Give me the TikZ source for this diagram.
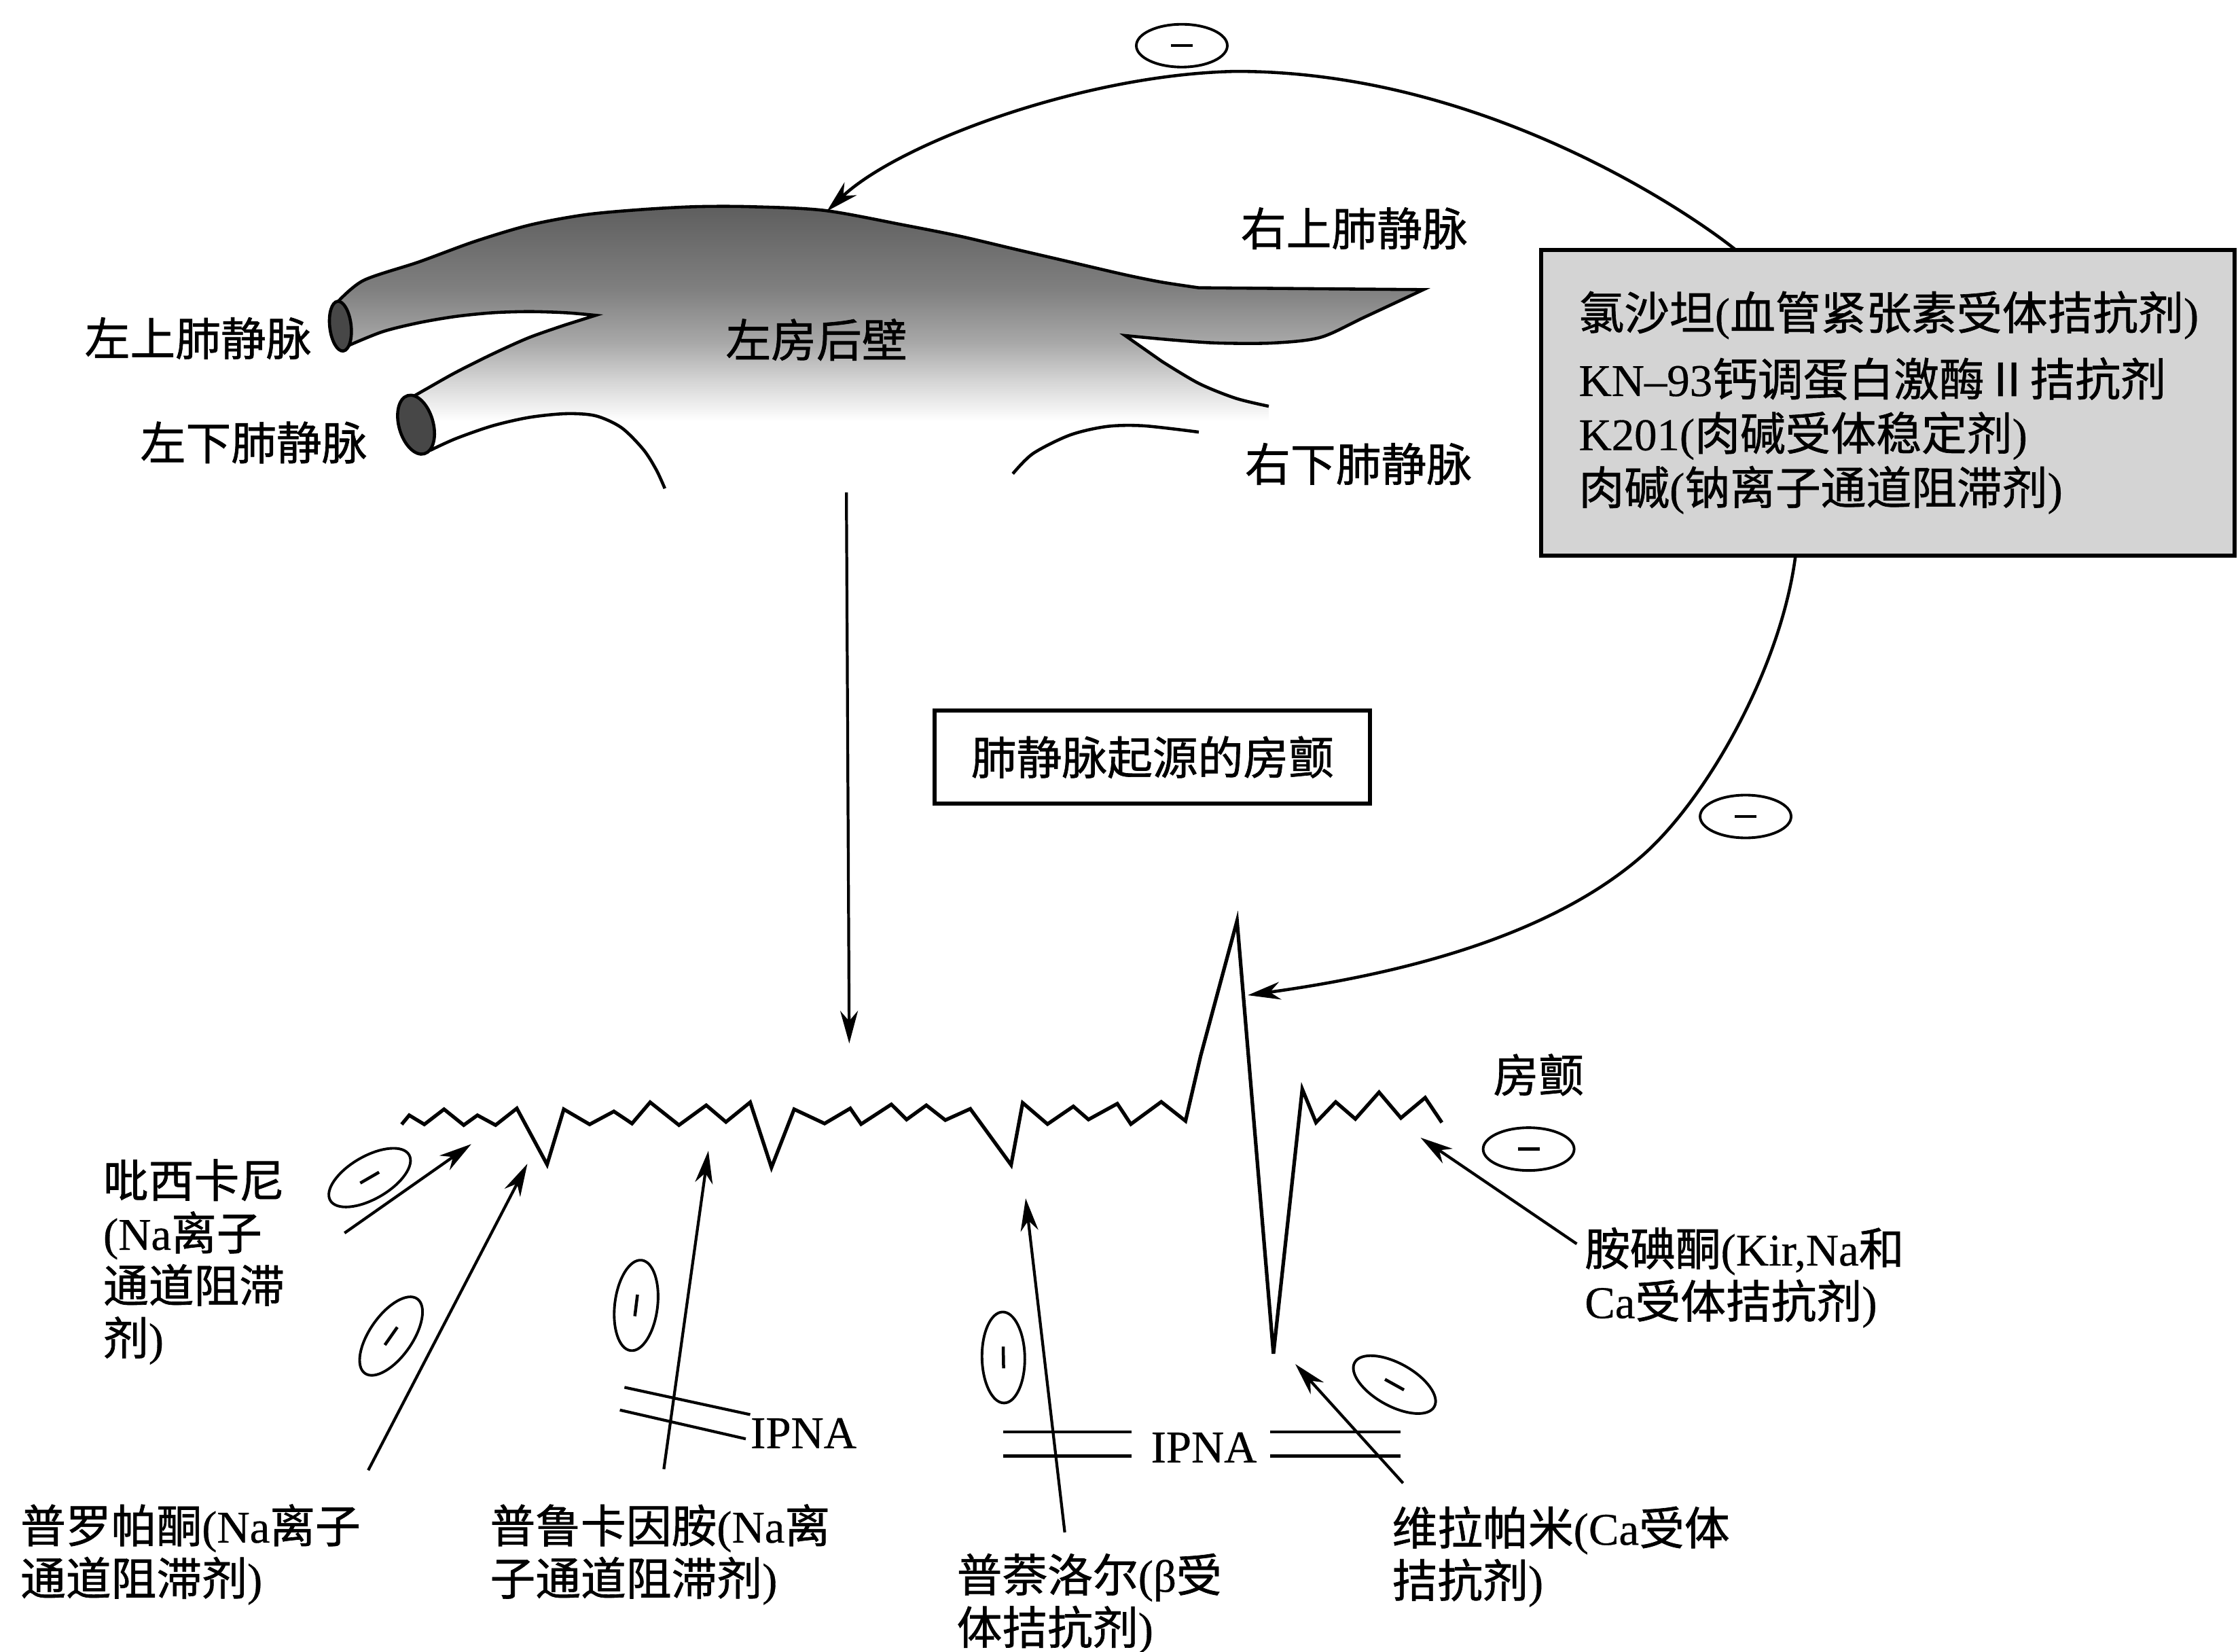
\documentclass[tikz,border=0pt]{standalone}
\usepackage{fontspec}
\setmainfont{Liberation Serif}[FakeBold=0.5]
\newfontfamily\cjk{Noto Sans CJK SC}[FakeBold=1.0]
\usetikzlibrary{arrows.meta,shapes.geometric}

% Han characters switch to the CJK face, the rest stays in the serif
\XeTeXinterchartokenstate=1
\newXeTeXintercharclass\hanclass
\count255="3000
\loop
  \XeTeXcharclass\count255=\hanclass
  \ifnum\count255<"9FFF \advance\count255 by 1 \repeat
\XeTeXcharclass"2161=\hanclass
\XeTeXinterchartoks 0 \hanclass = {\cjk}
\XeTeXinterchartoks 4095 \hanclass = {\cjk}
\XeTeXinterchartoks \hanclass 0 = {\rmfamily}
\XeTeXinterchartoks \hanclass 4095 = {\rmfamily}

% dark at the top of the wall, white by the lower veins
\pgfdeclareverticalshading{wallfade}{100bp}{rgb(0bp)=(1,1,1); rgb(31bp)=(1,1,1);
  rgb(39bp)=(0.84,0.84,0.84); rgb(47bp)=(0.66,0.66,0.66); rgb(58bp)=(0.50,0.50,0.50);
  rgb(75bp)=(0.37,0.37,0.37); rgb(100bp)=(0.37,0.37,0.37)}

\tikzset{
  vtip/.tip={Stealth[length=4.8mm,width=2.6mm,inset=1.5mm]},
  arr/.style={line width=1.2pt, -vtip},
  wall/.style={line width=1.3pt},
  trace/.style={line width=1.5pt},
  lbl/.style={inner sep=0pt, align=left, font=\fontsize{19}{22}\selectfont},
  inhib/.style={ellipse, draw, line width=1.1pt, minimum width=13.4mm,
    minimum height=6.3mm, inner sep=0pt},
  agentbox/.style={draw, line width=1.7pt, fill=black!17, minimum height=45mm,
    text width=91mm, inner xsep=5.57mm, align=left,
    font=\fontsize{19}{22.7}\selectfont},
  afbox/.style={draw, line width=1.7pt, minimum width=64.1mm, minimum height=13.7mm,
    font=\fontsize{19}{22}\selectfont}
}
\newcommand{\minus}{\rule[-0.22mm]{3.2mm}{0.45mm}}

\begin{document}
\begin{tikzpicture}[x=0.21014mm, y=-0.21014mm]
\fill[white] (0,0) rectangle (1568,1157);
\useasboundingbox (0,0) rectangle (1568,1157);

% posterior wall of the left atrium
\shade[shading=wallfade]
  plot[smooth] coordinates {(236.7,211.4) (254.8,196.4) (293.5,183.5) (332.2,169.3)
    (370.9,157.7) (409.6,150.5) (448.3,146.9) (487,144.8) (525.7,144.8) (577.3,147.4)
    (633.5,157.7) (672.2,165.4) (710.9,174.5) (749.6,183.5) (788.3,192.5) (814.1,197.7)
    (839.9,201.6)}
  -- plot[smooth] coordinates {(997.3,202.9) (956,222.2) (925,236.4) (891.5,240.3)
    (852.8,240.3) (821.8,238.2) (788.3,235.1)}
  -- plot[smooth] coordinates {(814.1,253.2) (839.9,268.6) (865.7,279) (888.9,284.6)}
  -- (888.9,300) -- (435.4,299.6)
  -- plot[smooth] coordinates {(417.3,291.3) (396.7,289.8) (370.9,292.4) (345.1,298.3)
    (319.3,307.3) (301.2,315.6)}
  -- (289.6,277.7)
  -- plot[smooth] coordinates {(298.7,272.5) (319.3,260.9) (345.1,248) (370.9,236.4)
    (396.7,227.4) (417.3,220.9)}
  -- plot[smooth] coordinates {(396.7,219.1) (370.9,218.3) (345.1,219.1) (319.3,221.7)
    (293.5,226.1) (267.7,232.5) (242,243)}
  -- cycle;

% outlines
\draw[wall] plot[smooth] coordinates {(236.7,211.4) (254.8,196.4) (293.5,183.5)
    (332.2,169.3) (370.9,157.7) (409.6,150.5) (448.3,146.9) (487,144.8) (525.7,144.8)
    (577.3,147.4) (633.5,157.7) (672.2,165.4) (710.9,174.5) (749.6,183.5) (788.3,192.5)
    (814.1,197.7) (839.9,201.6)}
  -- plot[smooth] coordinates {(997.3,202.9) (956,222.2) (925,236.4) (891.5,240.3)
    (852.8,240.3) (821.8,238.2) (788.3,235.1)}
  -- plot[smooth] coordinates {(814.1,253.2) (839.9,268.6) (865.7,279) (888.9,284.6)};
\draw[wall] plot[smooth] coordinates {(242,243) (267.7,232.5) (293.5,226.1) (319.3,221.7)
    (345.1,219.1) (370.9,218.3) (396.7,219.1) (417.3,220.9)}
  -- plot[smooth] coordinates {(396.7,227.4) (370.9,236.4) (345.1,248) (319.3,260.9)
    (298.7,272.5) (289.6,277.7)};
\draw[wall] plot[smooth] coordinates {(301.2,315.6) (319.3,307.3) (345.1,298.3)
    (370.9,292.4) (396.7,289.8) (417.3,291.3) (435.4,299.6) (450.9,315.1) (459.9,329.3)
    (465.8,342.2)};
\draw[wall] plot[smooth] coordinates {(709.6,331.9) (723.8,317.7) (749.6,304.8)
    (775.4,298.8) (801.2,298.3) (839.9,302.7)};

% vein openings
\draw[wall, fill=black!72, rotate around={6.5:(238.5,228.5)}]
  (238.5,228.5) ellipse [x radius=7.5, y radius=17.5];
\draw[wall, fill=black!72, rotate around={16:(291.5,297.5)}]
  (291.5,297.5) ellipse [x radius=12, y radius=21.2];

\node[lbl] (lawall) at (572,238) {左房后壁};
\node[lbl, anchor=west] (lsupv) at (59,237) {左上肺静脉};
\node[lbl, anchor=west] (linfpv) at (98,310) {左下肺静脉};
\node[lbl, anchor=west] (rsupv) at (869,160) {右上肺静脉};
\node[lbl, anchor=west] (rinfpv) at (872,325) {右下肺静脉};

% feedback arc from the triggers back to the wall
\coordinate (walltop) at (579.3,148);
\coordinate (spikehit) at (874.2,697.2);
\draw[line width=1.3pt, vtip-vtip] (walltop)
  .. controls (630,100) and (760,52) .. (866,50)
  .. controls (1040,50) and (1185,150) .. (1216,175)
  .. controls (1263,213) and (1266,330) .. (1258,389)
  .. controls (1248,468) and (1195,561) .. (1150,600)
  .. controls (1082,659) and (973,683.5) .. (spikehit);

\node[inhib] (inhTop) at (828,32) {\minus};
\node[inhib] (inhArc) at (1223,572) {\minus};

\node[agentbox] (agents) at (1322.7,282) {氯沙坦(血管紧张素受体拮抗剂)\\[1.8mm]
  KN–93钙调蛋白激酶Ⅱ拮抗剂\\
  K201(肉碱受体稳定剂)\\
  肉碱(钠离子通道阻滞剂)};

% wall drives the fibrillation
\coordinate (wallfoot) at (593,345);
\coordinate (fibhit) at (595,731);
\draw[arr] (wallfoot) -- (fibhit);

\node[afbox] (afbox) at (807.5,530.5) {肺静脉起源的房颤};

% fibrillation trace with the triggered beat
\draw[trace] plot coordinates {(281.4,787.7) (286.7,781.3) (297.3,787.7) (311.1,777.1)
  (324.9,788.2) (334.5,781.3) (347.2,788.2) (362.1,776.5) (383.3,815.8) (395.0,777.1)
  (413.1,787.7) (430.1,778.6) (442.8,787.1) (455.5,772.2) (475.7,788.2) (494.8,774.3)
  (508.6,786.0) (525.6,772.2) (540.5,817.9) (556.4,777.1) (577.7,787.1) (595.7,776.5)
  (603.3,787.5) (624.5,773.7) (635.2,784.3) (649.0,774.3) (662.3,784.7) (679.8,776.8)
  (708.4,816.1) (716.5,772.6) (733.9,787.5) (752.0,775.1) (762.6,784.3) (782.8,773.2)
  (792.3,787.5) (813.6,771.9) (830.6,785.3) (841.2,739.7) (866.7,645.1) (892.2,948.3)
  (912.4,763.0) (922.0,786.4) (935.8,772.0) (949.6,783.9) (966.2,765.2) (981.5,783.2)
  (998.5,769.0) (1010.2,786.4)};
\node[lbl] (afib) at (1078,753) {房颤};

% drugs acting on the trace
\node[lbl, anchor=west] (pils) at (72,884) {吡西卡尼\\(Na离子\\通道阻滞\\剂)};
\node[inhib, rotate=30] (inhPils) at (259,825) {\minus};
\coordinate (pilsTail) at (241.4,863.8);
\coordinate (pilsTip) at (330.2,801.5);
\draw[arr] (pilsTail) -- (pilsTip);

\node[lbl, anchor=west] (prop) at (14,1089) {普罗帕酮(Na离子\\通道阻滞剂)};
\node[inhib, rotate=55] (inhProp) at (274,936) {\minus};
\coordinate (propTail) at (258,1030);
\coordinate (propTip) at (369.5,815.3);
\draw[arr] (propTail) -- (propTip);

\node[lbl, anchor=west] (proc) at (343,1089) {普鲁卡因胺(Na离\\子通道阻滞剂)};
\node[inhib, rotate=83] (inhProc) at (445.7,914.5) {\minus};
\coordinate (procTail) at (465.1,1029.2);
\coordinate (procTip) at (496.3,806.2);
\draw[arr] (procTail) -- (procTip);
\draw[line width=1.2pt] (437.5,971.9) -- (525.6,991.0) (434.3,987.8) -- (522.5,1008.0);
\node[lbl] (ipnaL) at (563,1004) {IPNA};

\node[lbl, anchor=west] (propr) at (670,1123.5) {普萘洛尔(β受\\体拮抗剂)};
\node[inhib, rotate=91] (inhPropr) at (703,951) {\minus};
\coordinate (proprTail) at (746,1073.5);
\coordinate (proprTip) at (718.6,839.5);
\draw[arr] (proprTail) -- (proprTip);
\draw[line width=1.2pt] (703,1003) -- (793,1003) (703,1020) -- (793,1020)
  (890,1003) -- (981,1003) (890,1020) -- (981,1020);
\node[lbl] (ipnaR) at (843.5,1014) {IPNA};

\node[lbl, anchor=west] (vera) at (975,1090.5) {维拉帕米(Ca受体\\拮抗剂)};
\node[inhib, rotate=-29] (inhVera) at (977,970) {\minus};
\coordinate (veraTail) at (983,1039);
\coordinate (veraTip) at (907.5,955.6);
\draw[arr] (veraTail) -- (veraTip);

\node[lbl, anchor=west] (amio) at (1110,895) {胺碘酮(Kir,Na和\\Ca受体拮抗剂)};
\node[inhib] (inhAmio) at (1071,805) {\minus};
\coordinate (amioTail) at (1104.7,871.4);
\coordinate (amioTip) at (995.3,797);
\draw[arr] (amioTail) -- (amioTip);
\end{tikzpicture}
\end{document}
